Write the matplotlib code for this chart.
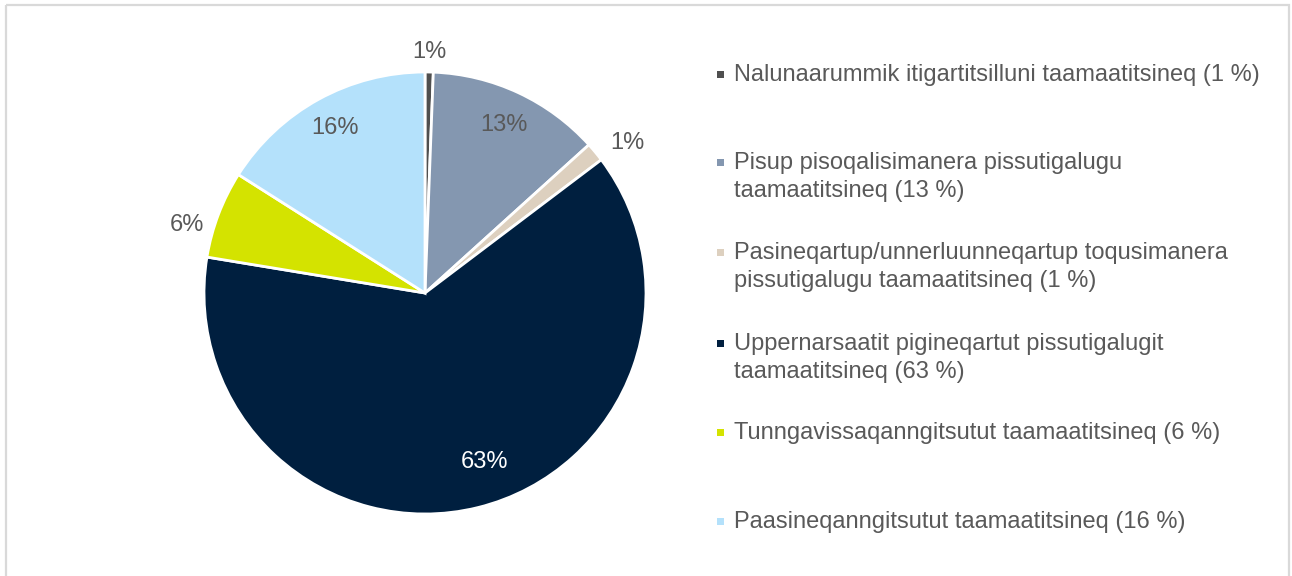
import numpy as np
import matplotlib
matplotlib.use("Agg")
import matplotlib.pyplot as plt
from matplotlib.patches import Rectangle

plt.rcParams['font.family'] = ['Liberation Sans', 'DejaVu Sans']

# data
shares = [0.6, 12.7, 1.4, 62.9, 6.4, 16.0]
pct_labels = ['1%', '13%', '1%', '63%', '6%', '16%']
legend_labels = [
    'Nalunaarummik itigartitsilluni taamaatitsineq (1 %)',
    'Pisup pisoqalisimanera pissutigalugu\ntaamaatitsineq (13 %)',
    'Pasineqartup/unnerluunneqartup toqusimanera\npissutigalugu taamaatitsineq (1 %)',
    'Uppernarsaatit pigineqartut pissutigalugit\ntaamaatitsineq (63 %)',
    'Tunngavissaqanngitsutut taamaatitsineq (6 %)',
    'Paasineqanngitsutut taamaatitsineq (16 %)',
]
colors = ['#4f4f4f', '#8497b0', '#ddd0bf', '#001f3f', '#d4e300', '#b4e1fb']

# style: label distance (fraction of radius), angle nudge (deg) and colour
label_dist = [1.09, 0.84, 1.14, 0.81, 1.12, 0.85]
label_nudge = [0, 0, -3, 5.5, 5, 0]
label_col = ['#595959', '#595959', '#595959', 'white', '#595959', '#595959']
legend_y = [75, 163, 253, 344, 433, 522]
line_gap = 28

W, H = 1292, 576
fig = plt.figure(figsize=(W / 100, H / 100), dpi=100)
ax = fig.add_axes([0, 0, 1, 1])
ax.set_xlim(0, W)
ax.set_ylim(H, 0)
ax.axis('off')

# frame
ax.add_patch(Rectangle((6, 5), 1283, 600, fill=False, edgecolor='#d9d9d9', lw=1.6))

# pie drawn in its own axes placed at the pixel spot
cx, cy, r = 425, 293, 221
pax = fig.add_axes([(cx - r) / W, (H - cy - r) / H, 2 * r / W, 2 * r / H])
wedges, _ = pax.pie(shares, colors=colors, startangle=90, counterclock=False,
                    radius=1, wedgeprops=dict(edgecolor='white', linewidth=2))
pax.set_xlim(-1, 1)
pax.set_ylim(-1, 1)
pax.set_aspect('equal')
pax.axis('off')

for w, lab, d, n, c in zip(wedges, pct_labels, label_dist, label_nudge, label_col):
    th = np.deg2rad((w.theta1 + w.theta2) / 2 + n)
    pax.text(d * np.cos(th), d * np.sin(th), lab, ha='center', va='center',
             fontsize=17, color=c, clip_on=False)

# legend
for y, lab, c in zip(legend_y, legend_labels, colors):
    ax.add_patch(Rectangle((717, y - 4), 7, 7, color=c, lw=0))
    for k, line in enumerate(lab.split('\n')):
        ax.text(734, y + k * line_gap, line, ha='left', va='center',
                fontsize=17, color='#595959')

fig.savefig('out.png', dpi=100)
